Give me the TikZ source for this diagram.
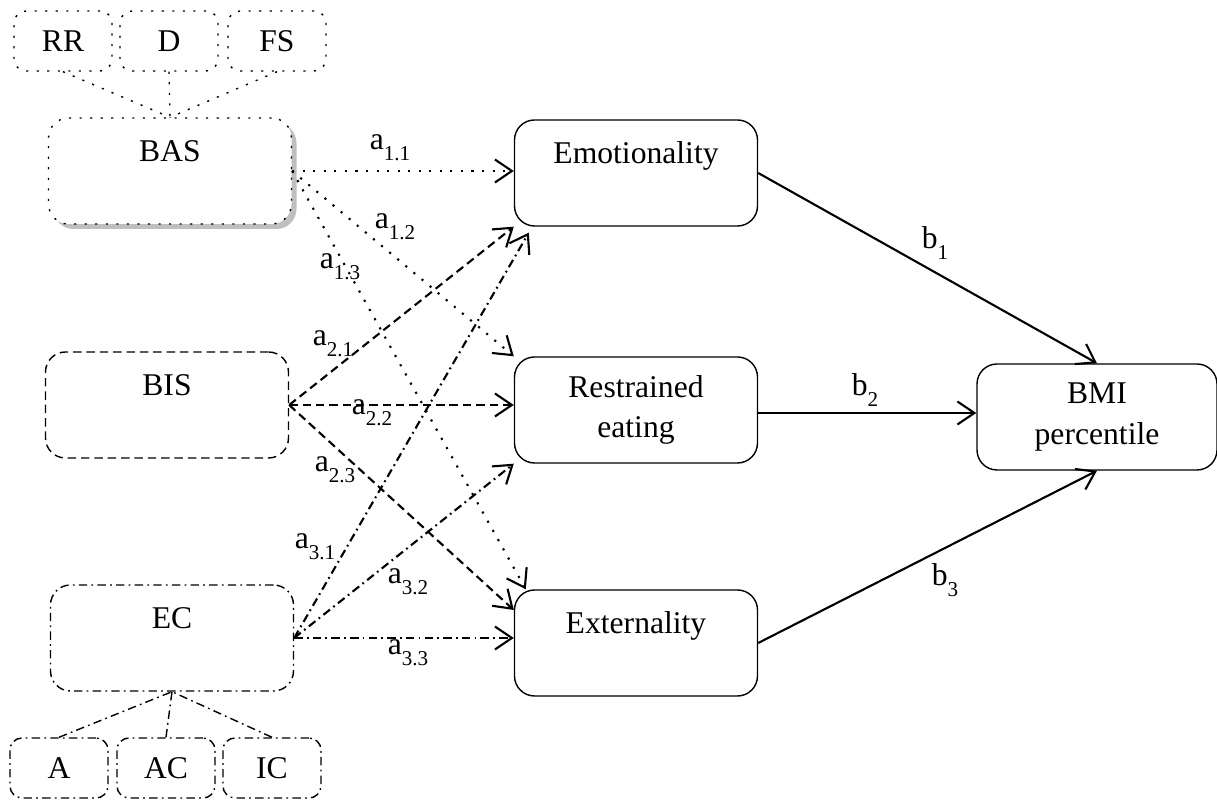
\documentclass[tikz,border=0pt]{standalone}
\usepackage{fontspec}
\setmainfont{Liberation Serif}
\usetikzlibrary{arrows.meta,shadows}
\newcommand{\lowsub}[1]{\raisebox{-3pt}{\fontsize{6}{7}\selectfont #1}}
\begin{document}
\begin{tikzpicture}[x=0.1mm,y=-0.1mm,font=\fontsize{9}{11.5}\selectfont,
    big/.style={draw,rounded corners=2mm,minimum width=24.3mm,minimum height=10.6mm,align=center,fill=white,inner sep=0pt,line width=0.4pt},
    small/.style={draw,rounded corners=1.2mm,minimum width=9.8mm,minimum height=6mm,inner sep=0pt,line width=0.4pt},
    dots/.style={dash pattern=on 0.6pt off 2.4pt},
    dashln/.style={dash pattern=on 2.4pt off 1.4pt},
    dashdotln/.style={dash pattern=on 2.4pt off 1.2pt on 0.5pt off 1.2pt},
    arr/.style={-{Straight Barb[length=1.7mm,width=2.3mm]},line width=0.6pt}]
\useasboundingbox (0,0) rectangle (1217,800);
\node[big,dots,drop shadow={shadow xshift=0.5mm,shadow yshift=-0.5mm,fill=black!25,opacity=1}] (BAS) at (170,171) {BAS\\ ~};
\node[big,dashln] (BIS) at (167,405) {BIS\\ ~};
\node[big,dashdotln] (EC) at (172,638) {EC\\ ~};
\node[big] (Emo) at (636,173) {Emotionality\\ ~};
\node[big] (Rest) at (636,410) {Restrained\\ eating};
\node[big] (Ext) at (636,643) {Externality\\ ~};
\node[big,minimum width=24mm] (BMI) at (1097,417) {BMI\\ percentile};
\foreach \n/\x in {RR/63,D/169,FS/277}
  \node[small,dots] (\n) at (\x,41) {\n};
\foreach \n/\x in {A/59,AC/166,IC/272}
  \node[small,dashdotln] (\n) at (\x,768) {\n};
\foreach \n in {RR,D,FS}
  \draw[dots,line width=0.4pt] (\n.south) -- (BAS.north);
\foreach \n in {A,AC,IC}
  \draw[dashdotln,line width=0.4pt] (\n.north) -- (EC.south);
\coordinate (e11) at (BAS.east -| Emo.west);
\coordinate (e13) at ([xshift=1.2mm]Ext.north west);
\coordinate (e22) at (BIS.east -| Rest.west);
\coordinate (e23) at ([yshift=3.3mm]Ext.west);
\coordinate (e31) at ([xshift=1.5mm,yshift=-0.6mm]Emo.south west);
\coordinate (e33) at (EC.east -| Ext.west);
\coordinate (b2end) at ([yshift=-0.3mm]Rest.east -| BMI.west);
\foreach \s/\t/\st in {BAS/e11/dots, BAS/Rest.north west/dots, BAS/e13/dots,
    BIS/Emo.south west/dashln, BIS/e22/dashln, BIS/e23/dashln,
    EC/e31/dashdotln, EC/Rest.south west/dashdotln, EC/e33/dashdotln}
  \draw[arr,\st] (\s.east) -- (\t);
\draw[arr] (Emo.east) -- (BMI.north);
\draw[arr] ([yshift=-0.3mm]Rest.east) -- (b2end);
\draw[arr] (Ext.east) -- (BMI.south);
\foreach \n/\t/\x/\y in {a11/1.1/390/148, a12/1.2/395/227, a13/1.3/340/267,
    a21/2.1/333/344, a22/2.2/372/413, a23/2.3/335/470,
    a31/3.1/315/547, a32/3.2/408/582, a33/3.3/408/653}
  \node (\n) at (\x,\y) {a\lowsub{\t}};
\foreach \n/\x/\y in {1/935/243, 2/865/390, 3/945/580}
  \node (b\n) at (\x,\y) {b\lowsub{\n}};
\end{tikzpicture}
\end{document}
